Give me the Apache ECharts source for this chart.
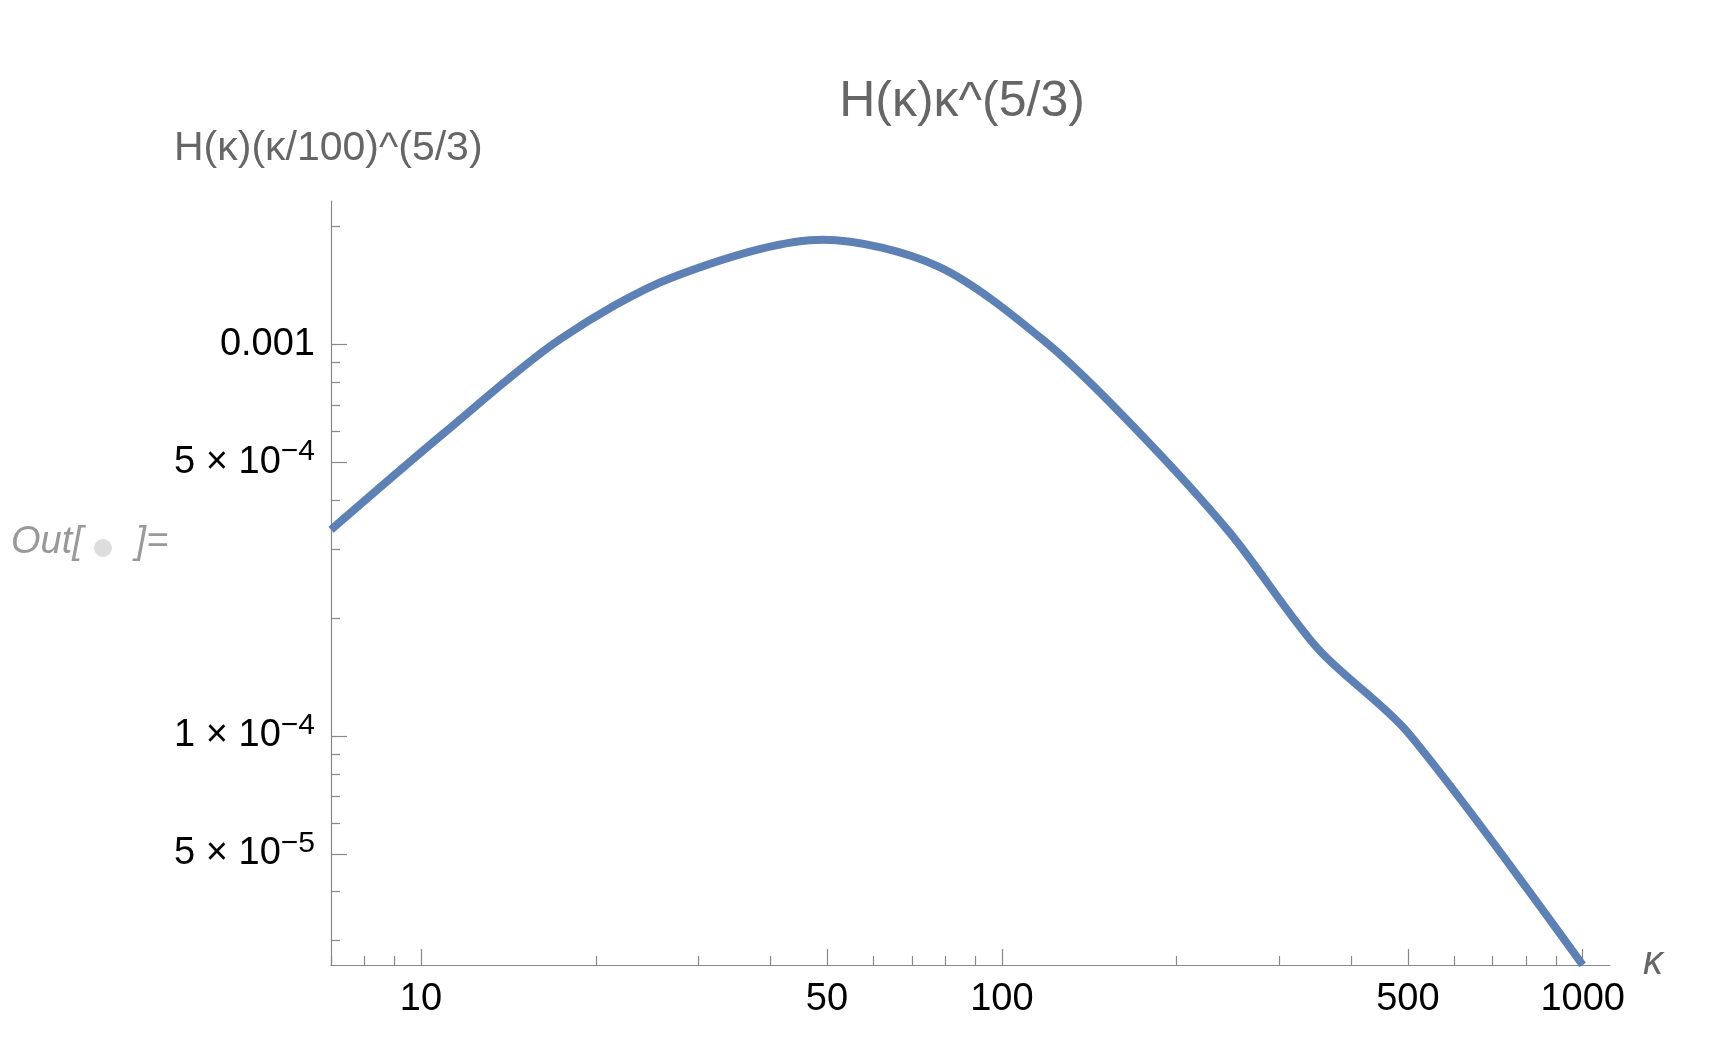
<!DOCTYPE html><html><head><meta charset="utf-8"><script src="https://cdn.jsdelivr.net/npm/echarts@6/dist/echarts.min.js"></script>
<style>html,body{margin:0;background:#fff}#c{width:1720px;height:1052px}</style></head><body><div id="c"></div><script>
const kappa=[7,10.95,17.3,27.2,49.2,77.8,119.6,168.6,247,350,500,1000];
const hval=[3.36e-4,5.93e-4,1.027e-3,1.486e-3,1.85e-3,1.58e-3,1.007e-3,6.16e-4,3.30e-4,1.67e-4,1.02e-4,2.6e-5];
const xMajor=[10,50,100,500,1000];
const xMinor=[7,8,9,20,30,40,60,70,80,90,200,300,400,600,700,800,900];
const yLabels=[1e-3,5e-4,1e-4,5e-5];
const yMinor=[3e-5,4e-5,6e-5,7e-5,8e-5,9e-5,2e-4,3e-4,4e-4,6e-4,7e-4,8e-4,9e-4,2e-3];
const L=Math.log10;
const ylab={1e-3:'0.001',5e-4:'5 × 10{s|−4}',1e-4:'1 × 10{s|−4}',5e-5:'5 × 10{s|−5}'};
const xmin=L(7),xmax=3.047,ymin=-4.585,ymax=-2.634;
const chart=echarts.init(document.getElementById('c'));
const gray='#666';
function xa(show,vals,len,labels){return {type:'value',min:xmin,max:xmax,position:'bottom',
 axisLine:{show:show,lineStyle:{color:'#888',width:1.2}},splitLine:{show:false},
 axisTick:{show:true,inside:true,length:len,customValues:vals.map(L),lineStyle:{color:'#888',width:1.2}},
 axisLabel:{show:labels,customValues:xMajor.map(L),formatter:v=>String(Math.round(Math.pow(10,v))),color:'#000',fontSize:38,fontFamily:'Liberation Sans',margin:16}};}
function ya(show,vals,len,labels){return {type:'value',min:ymin,max:ymax,position:'left',
 axisLine:{show:show,lineStyle:{color:'#888',width:1.2}},splitLine:{show:false},
 axisTick:{show:true,inside:true,length:len,customValues:vals.map(L),lineStyle:{color:'#888',width:1.2}},
 axisLabel:{show:labels,customValues:yLabels.map(L),formatter:v=>{let k=yLabels.find(t=>Math.abs(L(t)-v)<1e-6);return ylab[k];},
  color:'#000',fontSize:38,fontFamily:'Liberation Sans',margin:16,rich:{s:{fontSize:30,verticalAlign:'top',padding:[0,0,20,0],color:'#000'}}}};}
chart.setOption({
 animation:false,
 grid:{left:331,right:110,top:201,bottom:87},
 title:{text:'H(κ)κ^(5/3)',left:957,top:72,textAlign:'center',textStyle:{color:gray,fontSize:50,fontWeight:'normal',fontFamily:'Liberation Sans'}},
 graphic:[
  {type:'text',left:174,top:128,style:{text:'H(κ)(κ/100)^(5/3)',fill:gray,font:'41px Liberation Sans'}},
  {type:'text',left:1643,top:943,style:{text:'κ',fill:gray,font:'italic 40px Liberation Sans'}},
  {type:'text',left:11,top:523,style:{text:'Out[     ]=',fill:'#999',font:'italic 38px Liberation Sans'}},
  {type:'circle',shape:{cx:103,cy:548,r:9},style:{fill:'#ddd'}}
 ],
 xAxis:[xa(true,xMajor,16,true),xa(false,xMinor,9,false)],
 yAxis:[ya(true,yLabels,16,true),ya(false,yMinor,9,false)],
 series:[{type:'line',smooth:0.3,showSymbol:false,clip:false,data:kappa.map((k,i)=>[L(k),L(hval[i])]),
  lineStyle:{color:'#5E81B5',width:8}}]
});
</script></body></html>
